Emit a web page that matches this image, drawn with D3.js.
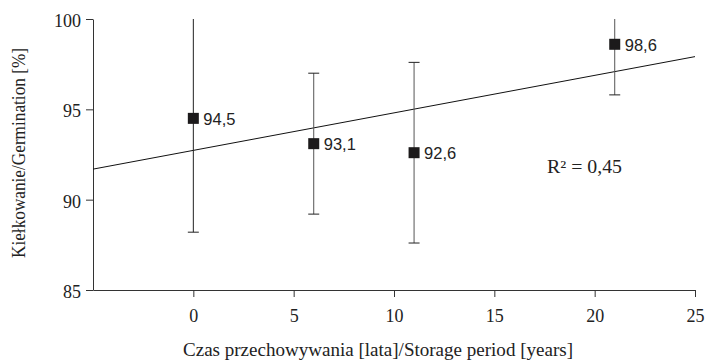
<!DOCTYPE html>
<html>
<head>
<meta charset="utf-8">
<script src="https://cdn.jsdelivr.net/npm/d3@7"></script>
<style>
    body { margin: 0; background: #fff; }
</style>
</head>
<body>
<script>
    // storage period [years] and germination [%]
    var years = [0, 6, 11, 21];
    var germination = [94.5, 93.1, 92.6, 98.6];
    var errLow = [88.2, 89.2, 87.6, 95.8];
    var errHigh = [100.8, 97.0, 97.6, 101.4];
    var labels = ["94,5", "93,1", "92,6", "98,6"];
    var xTicks = [0, 5, 10, 15, 20, 25];
    var yTicks = [85, 90, 95, 100];
    var r2Text = "R\u00b2 = 0,45";

    var width = 705, height = 361;
    var margin = {"top": 19, "bottom": 71, "left": 93, "right": 10};

    var svg = d3.select("body")
        .append("svg")
        .attr("width", width)
        .attr("height", height);

    var xScale = d3.scaleLinear()
        .domain([-5, 25])
        .range([margin.left, width - margin.right]);

    var yScale = d3.scaleLinear()
        .domain([85, 100])
        .range([height - margin.bottom, margin.top]);

    var serif = "'Liberation Serif', 'Times New Roman', serif";
    var sans = "'Liberation Sans', Arial, sans-serif";

    //x axis
    var xAxis = svg.append("g")
        .attr("transform", "translate(0," + yScale(85) + ")")
        .call(d3.axisBottom(xScale).tickValues(xTicks).tickSize(7).tickPadding(12).tickSizeOuter(0));

    //y axis
    var yAxis = svg.append("g")
        .attr("transform", "translate(" + xScale(-5) + ",0)")
        .call(d3.axisLeft(yScale).tickValues(yTicks).tickSize(7).tickPadding(5).tickSizeOuter(0));

    [xAxis, yAxis].forEach(function(a) {
        a.selectAll("text")
            .style("font-family", serif)
            .style("font-size", "18px")
            .attr("fill", "#222");
        a.selectAll("line").attr("stroke", "#333");
        a.select("path").attr("stroke", "#333");
    });
    yAxis.selectAll("text").attr("dy", "0.42em");

    //trend line from least squares
    var mx = d3.mean(years), my = d3.mean(germination);
    var sxy = d3.sum(years, function(d, i) { return (d - mx) * (germination[i] - my); });
    var sxx = d3.sum(years, function(d) { return (d - mx) * (d - mx); });
    var slope = sxy / sxx, intercept = my - slope * mx;

    svg.append("line")
        .attr("x1", xScale(-5))
        .attr("y1", yScale(intercept + slope * -5))
        .attr("x2", xScale(25))
        .attr("y2", yScale(intercept + slope * 25))
        .attr("stroke", "#111")
        .attr("stroke-width", 1);

    //error bars
    var bars = svg.append("g")
        .selectAll("g")
        .data(years)
        .enter()
        .append("g");

    bars.append("line")
        .attr("x1", d => xScale(d))
        .attr("x2", d => xScale(d))
        .attr("y1", (d, i) => yScale(Math.min(errHigh[i], 100)))
        .attr("y2", (d, i) => yScale(errLow[i]))
        .attr("stroke", (d, i) => i == 0 ? "#222" : "#555")
        .attr("stroke-width", 1);

    bars.append("line")
        .attr("x1", d => xScale(d) - 5.5)
        .attr("x2", d => xScale(d) + 5.5)
        .attr("y1", (d, i) => yScale(errLow[i]))
        .attr("y2", (d, i) => yScale(errLow[i]))
        .attr("stroke", "#222");

    bars.filter((d, i) => errHigh[i] <= 100)
        .append("line")
        .attr("x1", d => xScale(d) - 5.5)
        .attr("x2", d => xScale(d) + 5.5)
        .attr("y1", d => yScale(errHigh[years.indexOf(d)]))
        .attr("y2", d => yScale(errHigh[years.indexOf(d)]))
        .attr("stroke", "#222");

    //markers
    bars.append("rect")
        .attr("x", d => xScale(d) - 5.5)
        .attr("y", (d, i) => yScale(germination[i]) - 5.5)
        .attr("width", 11)
        .attr("height", 11)
        .attr("fill", "#1c1a1b");

    bars.append("text")
        .attr("x", d => xScale(d) + 10)
        .attr("y", (d, i) => yScale(germination[i]) + 6.5)
        .text((d, i) => labels[i])
        .style("font-family", sans)
        .style("font-size", "16.5px")
        .attr("fill", "#222");

    //R squared
    svg.append("text")
        .attr("x", 547)
        .attr("y", 172.5)
        .attr("textLength", 75)
        .attr("lengthAdjust", "spacingAndGlyphs")
        .text(r2Text)
        .style("font-family", serif)
        .style("font-size", "18px")
        .attr("fill", "#222");

    //axis titles
    svg.append("text")
        .attr("x", 183)
        .attr("y", 356)
        .attr("textLength", 390)
        .attr("lengthAdjust", "spacingAndGlyphs")
        .text("Czas przechowywania [lata]/Storage period [years]")
        .style("font-family", serif)
        .style("font-size", "18px")
        .attr("fill", "#222");

    svg.append("text")
        .attr("transform", "translate(25,258) rotate(-90)")
        .attr("textLength", 210)
        .attr("lengthAdjust", "spacingAndGlyphs")
        .text("Kiełkowanie/Germination [%]")
        .style("font-family", serif)
        .style("font-size", "18px")
        .attr("fill", "#222");
</script>
</body>
</html>
